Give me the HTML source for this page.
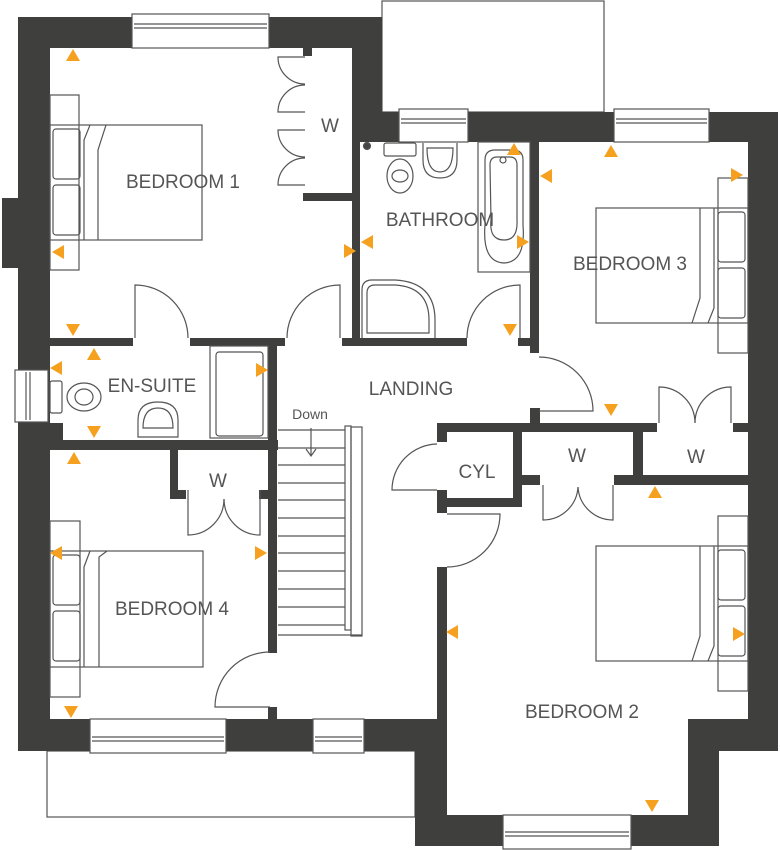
<!DOCTYPE html>
<html><head><meta charset="utf-8"><style>
html,body{margin:0;padding:0;background:#fff;width:780px;height:850px;overflow:hidden}
svg{display:block}
text{font-family:"Liberation Sans",sans-serif;fill:#555;font-size:19px}
</style></head><body>
<svg width="780" height="850" viewBox="0 0 780 850" xmlns="http://www.w3.org/2000/svg">
<g fill="none" stroke="#555" stroke-width="1.2">
  <rect x="382" y="1" width="222" height="111"/>
  <rect x="47" y="751" width="368" height="66"/>
</g>
<g fill="#3f3f3d">
  <rect x="18" y="17" width="32" height="734"/>
  <rect x="2" y="198" width="18" height="70"/>
  <rect x="18" y="17" width="364" height="31"/>
  <rect x="352" y="17" width="30" height="95"/>
  <rect x="352" y="112" width="426" height="30"/>
  <rect x="748" y="112" width="30" height="639"/>
  <rect x="688" y="719" width="90" height="32"/>
  <rect x="688" y="719" width="31" height="127"/>
  <rect x="415" y="815" width="304" height="31"/>
  <rect x="415" y="719" width="32" height="127"/>
  <rect x="18" y="719" width="429" height="32"/>
  <rect x="18" y="423" width="45" height="27"/>
  <rect x="352" y="48" width="8" height="297"/>
  <rect x="303" y="193" width="49" height="8"/>
  <rect x="303" y="48" width="9" height="8"/>
  <rect x="50" y="338" width="83" height="8"/>
  <rect x="190" y="338" width="95" height="8"/>
  <rect x="342" y="338" width="125" height="8"/>
  <rect x="268" y="338" width="9" height="315"/>
  <rect x="268" y="707" width="9" height="12"/>
  <rect x="50" y="440" width="228" height="10"/>
  <rect x="170" y="450" width="8" height="49"/>
  <rect x="170" y="490" width="16" height="9"/>
  <rect x="259" y="490" width="10" height="9"/>
  <rect x="530" y="142" width="9" height="211"/>
  <rect x="518" y="338" width="21" height="8"/>
  <rect x="530" y="408" width="10" height="22"/>
  <rect x="437" y="423" width="220" height="9"/>
  <rect x="733" y="423" width="15" height="9"/>
  <rect x="437" y="423" width="10" height="19"/>
  <rect x="437" y="490" width="10" height="23"/>
  <rect x="437" y="567" width="10" height="152"/>
  <rect x="513" y="423" width="9" height="84"/>
  <rect x="447" y="498" width="75" height="9"/>
  <rect x="633" y="423" width="10" height="62"/>
  <rect x="614" y="475" width="134" height="10"/>
  <rect x="522" y="475" width="18" height="10"/>
</g>
<g fill="#fff" stroke="#555" stroke-width="1.2">
  <rect x="132" y="14" width="137" height="34"/>
  <line x1="134" y1="24" x2="267" y2="24"/><line x1="134" y1="28" x2="267" y2="28"/>
  <rect x="399" y="109" width="69" height="33"/>
  <line x1="401" y1="119" x2="466" y2="119"/><line x1="401" y1="123" x2="466" y2="123"/>
  <rect x="614" y="109" width="95" height="33"/>
  <line x1="616" y1="119" x2="707" y2="119"/><line x1="616" y1="123" x2="707" y2="123"/>
  <rect x="15" y="370" width="33" height="52"/>
  <line x1="26" y1="372" x2="26" y2="420"/><line x1="30" y1="372" x2="30" y2="420"/>
  <rect x="90" y="719" width="136" height="34"/>
  <line x1="92" y1="737" x2="224" y2="737"/><line x1="92" y1="741" x2="224" y2="741"/>
  <rect x="313" y="719" width="51" height="34"/>
  <line x1="315" y1="737" x2="362" y2="737"/><line x1="315" y1="741" x2="362" y2="741"/>
  <rect x="503" y="815" width="128" height="34"/>
  <line x1="505" y1="832" x2="629" y2="832"/><line x1="505" y1="836" x2="629" y2="836"/>
</g>
<g fill="none" stroke="#555" stroke-width="1.2">
  <path d="M305,57 L278,57 A27,27 0 0 0 305,84"/>
  <path d="M305,112 L278,112 A27,27 0 0 1 305,85"/>
  <path d="M305,130 L278,130 A27,27 0 0 0 305,157"/>
  <path d="M305,185 L278,185 A27,27 0 0 1 305,158"/>
  <path d="M135,338 L135,285 A53,53 0 0 1 188,338"/>
  <path d="M340,338 L340,285 A53,53 0 0 0 287,338"/>
  <path d="M520,338 L520,285 A53,53 0 0 0 467,338"/>
  <path d="M539,411 L593,411 A54,54 0 0 0 539,357"/>
  <path d="M659,423 L659,387 A36,36 0 0 1 695,423"/>
  <path d="M731,423 L731,387 A36,36 0 0 0 695,423"/>
  <path d="M188,490 L188,535 A36,36 0 0 0 224,499"/>
  <path d="M260,490 L260,535 A36,36 0 0 1 224,499"/>
  <path d="M543,485 L543,520 A35,35 0 0 0 578,487"/>
  <path d="M613,485 L613,520 A35,35 0 0 1 578,487"/>
  <path d="M437,490 L392,490 A46,46 0 0 1 437,444"/>
  <path d="M447,514 L500,514 A53,53 0 0 1 447,567"/>
  <path d="M270,707 L215,707 A55,55 0 0 1 270,652"/>
  <rect x="50" y="95" width="29" height="175"/>
  <rect x="50" y="125" width="152" height="115"/>
  <rect x="53" y="129" width="27" height="50" rx="3"/><rect x="53" y="185" width="27" height="50" rx="3"/>
  <path d="M84,240 V140 L90,125 M98,240 V150 L106,125"/>
  <rect x="718" y="178" width="30" height="175"/>
  <rect x="596" y="208" width="152" height="115"/>
  <rect x="718" y="212" width="27" height="50" rx="3"/><rect x="718" y="268" width="27" height="50" rx="3"/>
  <path d="M714,208 V308 L708,323 M700,208 V298 L692,323"/>
  <rect x="718" y="516" width="30" height="175"/>
  <rect x="596" y="546" width="152" height="115"/>
  <rect x="718" y="550" width="27" height="50" rx="3"/><rect x="718" y="606" width="27" height="50" rx="3"/>
  <path d="M714,546 V646 L708,661 M700,546 V636 L692,661"/>
  <rect x="50" y="521" width="30" height="176"/>
  <rect x="50" y="551" width="153" height="116"/>
  <rect x="53" y="555" width="27" height="50" rx="3"/><rect x="53" y="611" width="27" height="50" rx="3"/>
  <path d="M84,667 V567 L90,551 M99,667 V557 L107,551"/>
  <path d="M278,430 H345 M278,448 H345 M278,465 H345 M278,483 H345 M278,500 H345 M278,518 H345 M278,536 H345 M278,553 H345 M278,571 H345 M278,589 H345 M278,607 H345 M278,625 H345 M278,635 H362"/>
  <rect x="345" y="426" width="6" height="204"/><rect x="351" y="427" width="11" height="209"/>
  <path d="M311,428 V455 M306,449 L311,456 L316,449"/>
  <rect x="478" y="142" width="52" height="130"/>
  <path d="M485,160 Q485,150 495,150 H513 Q523,150 523,160 V225 Q526,262 504,263 Q482,262 485,225 Z"/>
  <path d="M490,165 Q490,157 497,157 H510 Q517,157 517,165 V220 Q518,240 504,240 Q489,240 491,220 Z"/>
  <circle cx="503" cy="160" r="3"/>
  <path d="M362,338 V290 Q362,280 372,280 H395 Q435,282 435,320 V338"/>
  <path d="M367,333 V293 Q367,285 375,285 H395 Q429,287 429,320 V333 Z"/>
  <rect x="384" y="143" width="32" height="13" rx="2"/>
  <ellipse cx="400" cy="176" rx="13" ry="17"/><ellipse cx="400" cy="176" rx="8" ry="6"/>
  <path d="M423,143 V160 Q423,178 440,178 Q457,178 457,160 V143"/>
  <path d="M427,148 Q427,172 440,172 Q453,172 453,148 Z"/>
  <circle cx="367" cy="146" r="3.5" fill="#444"/>
  <rect x="210" y="346" width="58" height="92"/>
  <rect x="216" y="352" width="47" height="84" rx="3"/>
  <rect x="50" y="381" width="12" height="32" rx="2"/>
  <ellipse cx="84" cy="397" rx="17" ry="14"/><ellipse cx="84" cy="397" rx="9" ry="8"/>
  <path d="M138,437 V420 Q138,402 158,402 Q178,402 178,420 V437 Z"/>
  <path d="M143,428 Q143,408 158,408 Q173,408 173,428 Z"/>
</g>
<g fill="#f5a01e">
  <polygon points="66,61 80,61 73,49"/>
  <polygon points="64,245 64,259 52,252"/>
  <polygon points="66,324 80,324 73,336"/>
  <polygon points="344,244 344,258 356,251"/>
  <polygon points="373,235 373,249 361,242"/>
  <polygon points="87,360 101,360 94,348"/>
  <polygon points="62,361 62,375 50,368"/>
  <polygon points="87,426 101,426 94,438"/>
  <polygon points="256,363 256,377 268,370"/>
  <polygon points="67,464 81,464 74,452"/>
  <polygon points="62,546 62,560 50,553"/>
  <polygon points="255,546 255,560 267,553"/>
  <polygon points="64,706 78,706 71,718"/>
  <polygon points="507,155 521,155 514,143"/>
  <polygon points="604,157 618,157 611,145"/>
  <polygon points="552,169 552,183 540,176"/>
  <polygon points="731,168 731,182 743,175"/>
  <polygon points="517,235 517,249 529,242"/>
  <polygon points="503,324 517,324 510,336"/>
  <polygon points="604,404 618,404 611,416"/>
  <polygon points="648,498 662,498 655,486"/>
  <polygon points="458,625 458,639 446,632"/>
  <polygon points="733,627 733,641 745,634"/>
  <polygon points="645,800 659,800 652,812"/>
</g>
<text x="183" y="188" text-anchor="middle">BEDROOM 1</text>
<text x="330" y="132" text-anchor="middle">W</text>
<text x="440" y="226" text-anchor="middle">BATHROOM</text>
<text x="630" y="270" text-anchor="middle">BEDROOM 3</text>
<text x="152" y="392" text-anchor="middle">EN-SUITE</text>
<text x="411" y="395" text-anchor="middle">LANDING</text>
<text x="310" y="419" text-anchor="middle" style="font-size:14px">Down</text>
<text x="218" y="487" text-anchor="middle">W</text>
<text x="477" y="478" text-anchor="middle">CYL</text>
<text x="577" y="462" text-anchor="middle">W</text>
<text x="696" y="463" text-anchor="middle">W</text>
<text x="172" y="615" text-anchor="middle">BEDROOM 4</text>
<text x="582" y="718" text-anchor="middle">BEDROOM 2</text>
</svg>
</body></html>
